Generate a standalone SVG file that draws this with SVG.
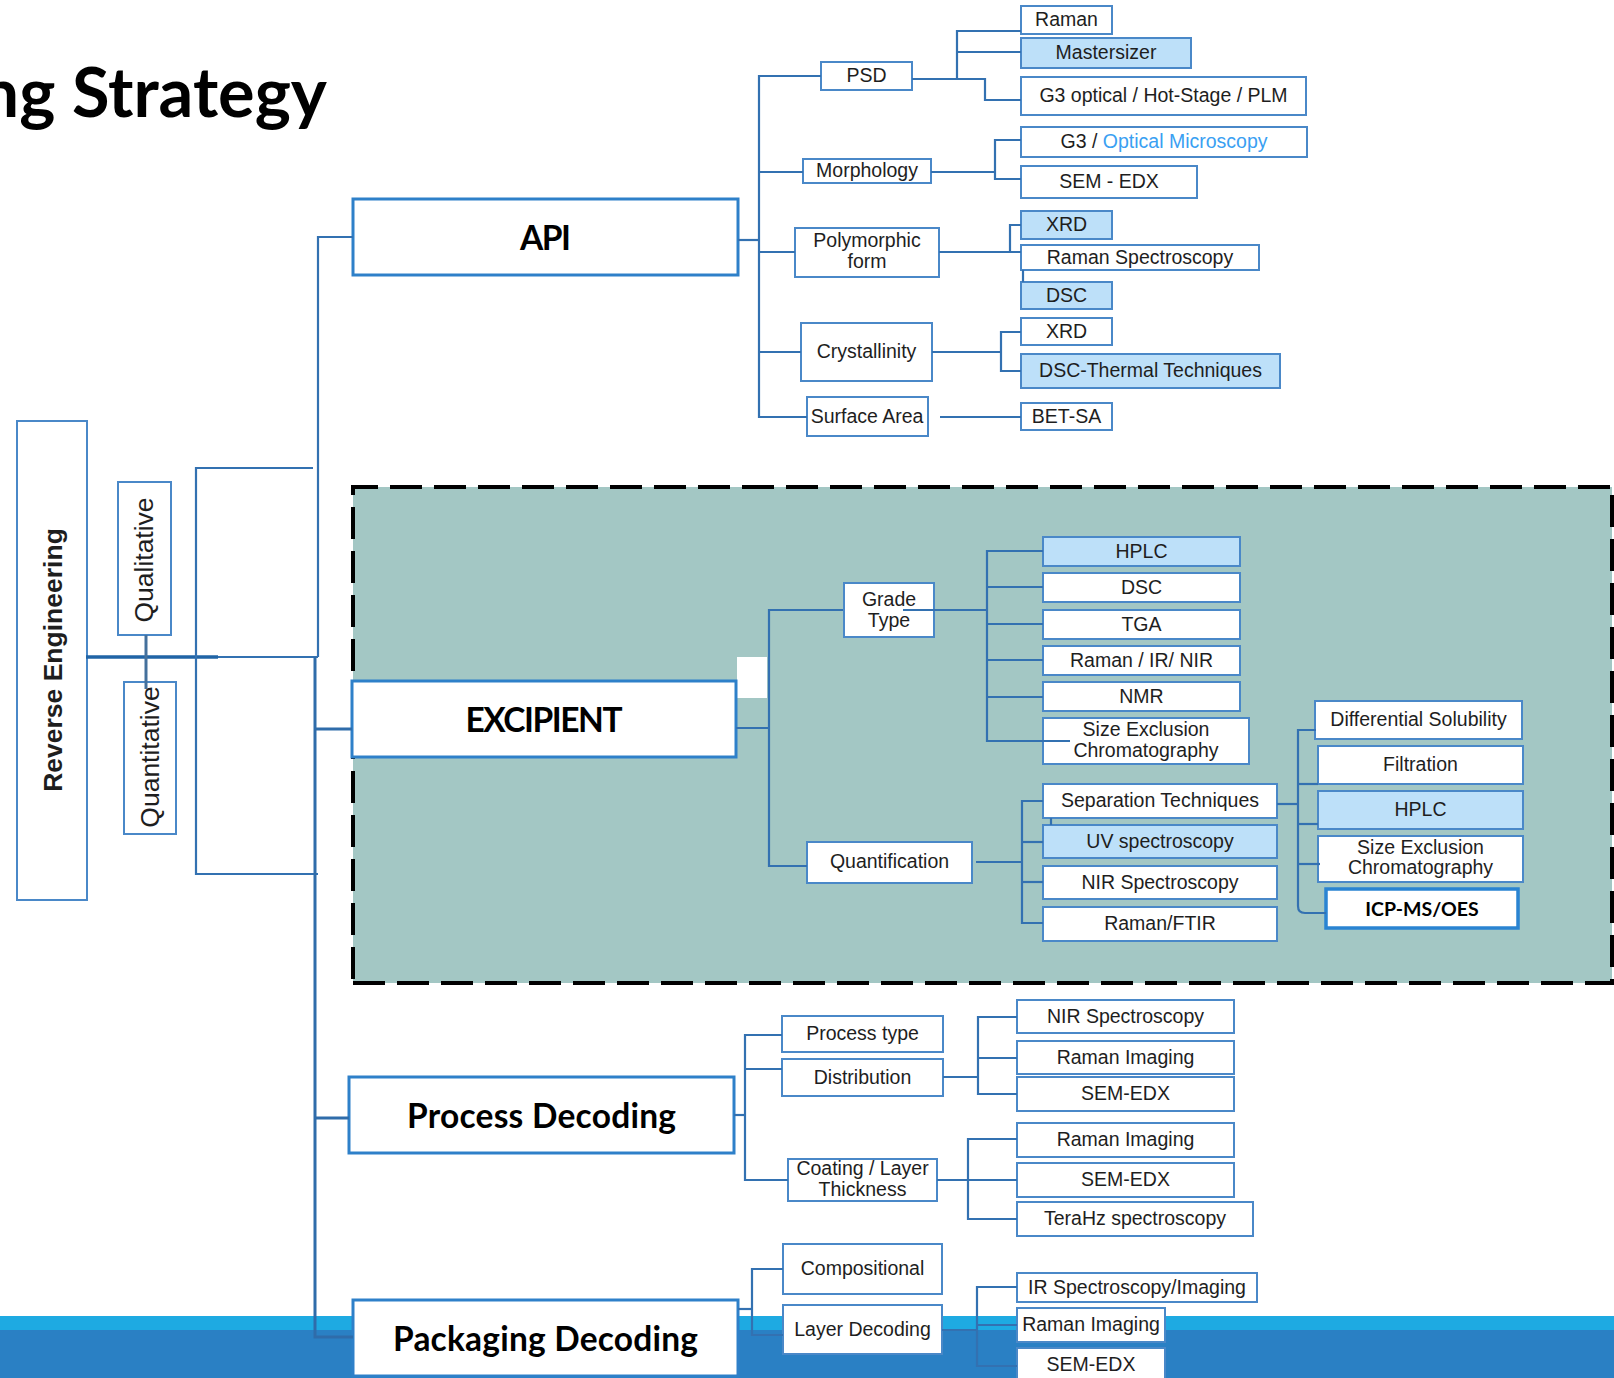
<svg xmlns="http://www.w3.org/2000/svg" width="1614" height="1378" viewBox="0 0 1614 1378">
  <style>
    .box { fill: #ffffff; stroke: #4A88C8; stroke-width: 2; }
    .hl { fill: #BDE0F9; }
    .main { fill: #ffffff; stroke: #2E80C9; stroke-width: 3; }
    .lbl { font-family: "Liberation Sans", Arial, sans-serif; font-size: 19.5px; fill: #1E1E1E; text-anchor: middle; transform: translate(0px, -1px); }
    .big { font-family: Lato, "Liberation Sans", sans-serif; font-weight: 700; font-size: 33.5px; fill: #000000; text-anchor: middle; }
    .side { font-family: "Liberation Sans", Arial, sans-serif; font-size: 26.5px; fill: #1E1E1E; text-anchor: middle; }
    .conn path { fill: none; stroke: #3371B1; stroke-width: 2.2; }
    .conn .trunk { stroke: #2F6CAA; stroke-width: 3; }
    .conn .thick { stroke: #2064A6; stroke-width: 3.5; }
    .frame line { stroke: #000000; stroke-width: 4; stroke-dasharray: 32 12; }
  </style>

  <rect x="0" y="0" width="1614" height="1378" fill="#ffffff"/>

  <!-- footer band -->
  <g id="footer-band">
    <rect x="0" y="1316" width="1614" height="14" fill="#1EAAE2"/>
    <rect x="0" y="1330" width="1614" height="48" fill="#2A80C4"/>
  </g>

  <!-- heading -->
  <text x="327" y="117" text-anchor="end" font-family="Lato, 'Liberation Sans', sans-serif" font-weight="700" font-size="68.5" fill="#000">ng Strategy</text>

  <!-- excipient region -->
  <g id="excipient-region" class="frame">
    <rect x="353" y="487" width="1259" height="496" fill="#A3C7C4"/>
    <line x1="351" y1="487" x2="1614" y2="487" stroke-dashoffset="5"/>
    <line x1="353" y1="485" x2="353" y2="985" stroke-dashoffset="22"/>
    <line x1="351" y1="983" x2="1614" y2="983" stroke-dashoffset="42"/>
    <line x1="1612" y1="485" x2="1612" y2="985" stroke-dashoffset="34"/>
    <rect x="737" y="657" width="30" height="41" fill="#ffffff"/>
  </g>

  <!-- root and axes -->
  <g id="node-reverse-engineering">
    <rect class="box" x="17" y="421" width="70" height="479"/>
    <text class="side" font-weight="700" font-size="27" transform="translate(62,660) rotate(-90)">Reverse Engineering</text>
  </g>
  <g id="node-qualitative">
    <rect class="box" x="118" y="482" width="53" height="153"/>
    <text class="side" transform="translate(153,560) rotate(-90)">Qualitative</text>
  </g>
  <g id="node-quantitative">
    <rect class="box" x="124" y="682" width="52" height="152"/>
    <text class="side" transform="translate(159,757) rotate(-90)">Quantitative</text>
  </g>

  <!-- main categories -->
  <g id="node-api">
    <rect class="main" x="353" y="199" width="385" height="76"/>
    <text class="big" x="545.5" y="249.5" textLength="51">API</text>
  </g>
  <g id="node-excipient">
    <rect class="main" x="352" y="681" width="384" height="76"/>
    <text class="big" x="544" y="732" font-size="32" textLength="157">EXCIPIENT</text>
  </g>
  <g id="node-process-decoding">
    <rect class="main" x="349" y="1077" width="385" height="76"/>
    <text class="big" x="541.5" y="1128" textLength="269">Process Decoding</text>
  </g>
  <g id="node-packaging-decoding">
    <rect class="main" x="353" y="1300" width="385" height="76"/>
    <text class="big" x="545.5" y="1351" textLength="305">Packaging Decoding</text>
  </g>

  <!-- API attributes -->
  <g id="node-psd"><rect class="box" x="821" y="62" width="91" height="28"/><text class="lbl" x="866.5" y="83">PSD</text></g>
  <g id="node-morphology"><rect class="box" x="803" y="159" width="128" height="24"/><text class="lbl" x="867" y="178">Morphology</text></g>
  <g id="node-polymorphic"><rect class="box" x="795" y="228" width="144" height="49"/><text class="lbl" x="867" y="248">Polymorphic</text><text class="lbl" x="867" y="269">form</text></g>
  <g id="node-crystallinity"><rect class="box" x="801" y="323" width="131" height="58"/><text class="lbl" x="866.5" y="359">Crystallinity</text></g>
  <g id="node-surface-area"><rect class="box" x="807" y="397" width="121" height="39"/><text class="lbl" x="867" y="423.5">Surface Area</text></g>

  <!-- API techniques -->
  <g id="node-api-raman"><rect class="box" x="1021" y="6" width="91" height="28"/><text class="lbl" x="1066.5" y="27">Raman</text></g>
  <g id="node-mastersizer"><rect class="box hl" x="1021" y="38" width="170" height="30"/><text class="lbl" x="1106" y="60">Mastersizer</text></g>
  <g id="node-g3-optical"><rect class="box" x="1021" y="77" width="285" height="38"/><text class="lbl" x="1163.5" y="103">G3 optical / Hot-Stage / PLM</text></g>
  <g id="node-g3-microscopy"><rect class="box" x="1021" y="127" width="286" height="30"/><text class="lbl" x="1164" y="149">G3 / <tspan fill="#3AA0F2">Optical Microscopy</tspan></text></g>
  <g id="node-sem-edx-api"><rect class="box" x="1021" y="166" width="176" height="32"/><text class="lbl" x="1109" y="189">SEM - EDX</text></g>
  <g id="node-xrd-poly"><rect class="box hl" x="1021" y="211" width="91" height="28"/><text class="lbl" x="1066.5" y="232">XRD</text></g>
  <g id="node-raman-spectroscopy"><rect class="box" x="1021" y="245" width="238" height="25"/><text class="lbl" x="1140" y="264.5">Raman Spectroscopy</text></g>
  <g id="node-dsc-poly"><rect class="box hl" x="1021" y="282" width="91" height="27"/><text class="lbl" x="1066.5" y="302.5">DSC</text></g>
  <g id="node-xrd-cryst"><rect class="box" x="1021" y="318" width="91" height="27"/><text class="lbl" x="1066.5" y="338.5">XRD</text></g>
  <g id="node-dsc-thermal"><rect class="box hl" x="1021" y="354" width="259" height="34"/><text class="lbl" x="1150.5" y="378">DSC-Thermal Techniques</text></g>
  <g id="node-bet-sa"><rect class="box" x="1021" y="403" width="91" height="27"/><text class="lbl" x="1066.5" y="423.5">BET-SA</text></g>

  <!-- excipient attributes -->
  <g id="node-grade-type"><rect class="box" x="844" y="583" width="90" height="54"/><text class="lbl" x="889" y="607">Grade</text><text class="lbl" x="889" y="628">Type</text></g>
  <g id="node-quantification"><rect class="box" x="807" y="842" width="165" height="41"/><text class="lbl" x="889.5" y="869">Quantification</text></g>

  <g id="node-hplc-grade"><rect class="box hl" x="1043" y="537" width="197" height="29"/><text class="lbl" x="1141.5" y="558.5">HPLC</text></g>
  <g id="node-dsc-grade"><rect class="box" x="1043" y="573" width="197" height="29"/><text class="lbl" x="1141.5" y="594.5">DSC</text></g>
  <g id="node-tga"><rect class="box" x="1043" y="610" width="197" height="29"/><text class="lbl" x="1141.5" y="631.5">TGA</text></g>
  <g id="node-raman-ir-nir"><rect class="box" x="1043" y="646" width="197" height="29"/><text class="lbl" x="1141.5" y="667.5">Raman / IR/ NIR</text></g>
  <g id="node-nmr"><rect class="box" x="1043" y="682" width="197" height="29"/><text class="lbl" x="1141.5" y="703.5">NMR</text></g>
  <g id="node-sec-grade"><rect class="box" x="1043" y="718" width="206" height="46"/><text class="lbl" x="1146" y="737">Size Exclusion</text><text class="lbl" x="1146" y="758">Chromatography</text></g>

  <g id="node-separation"><rect class="box" x="1043" y="784" width="234" height="34"/><text class="lbl" x="1160" y="808">Separation Techniques</text></g>
  <g id="node-uv"><rect class="box hl" x="1043" y="825" width="234" height="33"/><text class="lbl" x="1160" y="848.5">UV spectroscopy</text></g>
  <g id="node-nir-quant"><rect class="box" x="1043" y="866" width="234" height="33"/><text class="lbl" x="1160" y="889.5">NIR Spectroscopy</text></g>
  <g id="node-raman-ftir"><rect class="box" x="1043" y="907" width="234" height="34"/><text class="lbl" x="1160" y="931">Raman/FTIR</text></g>

  <g id="node-diff-solubility"><rect class="box" x="1315" y="701" width="207" height="38"/><text class="lbl" x="1418.5" y="727">Differential Solubility</text></g>
  <g id="node-filtration"><rect class="box" x="1318" y="746" width="205" height="38"/><text class="lbl" x="1420.5" y="772">Filtration</text></g>
  <g id="node-hplc-sep"><rect class="box hl" x="1318" y="791" width="205" height="38"/><text class="lbl" x="1420.5" y="817">HPLC</text></g>
  <g id="node-sec-sep"><rect class="box" x="1318" y="836" width="205" height="46"/><text class="lbl" x="1420.5" y="855">Size Exclusion</text><text class="lbl" x="1420.5" y="875">Chromatography</text></g>
  <g id="node-icp"><rect x="1326" y="889" width="192" height="39" fill="#fff" stroke="#2A84D2" stroke-width="3.5"/><text x="1422" y="916" text-anchor="middle" font-family="Lato, 'Liberation Sans', sans-serif" font-weight="700" font-size="19.5" fill="#000">ICP-MS/OES</text></g>

  <!-- process decoding -->
  <g id="node-process-type"><rect class="box" x="782" y="1016" width="161" height="36"/><text class="lbl" x="862.5" y="1041">Process type</text></g>
  <g id="node-distribution"><rect class="box" x="782" y="1059" width="161" height="37"/><text class="lbl" x="862.5" y="1084.5">Distribution</text></g>
  <g id="node-coating"><rect class="box" x="788" y="1159" width="149" height="42"/><text class="lbl" x="862.5" y="1176">Coating / Layer</text><text class="lbl" x="862.5" y="1197">Thickness</text></g>

  <g id="node-nir-dist"><rect class="box" x="1017" y="1000" width="217" height="33"/><text class="lbl" x="1125.5" y="1023.5">NIR Spectroscopy</text></g>
  <g id="node-raman-img-dist"><rect class="box" x="1017" y="1041" width="217" height="33"/><text class="lbl" x="1125.5" y="1064.5">Raman Imaging</text></g>
  <g id="node-sem-dist"><rect class="box" x="1017" y="1077" width="217" height="34"/><text class="lbl" x="1125.5" y="1101">SEM-EDX</text></g>
  <g id="node-raman-img-coat"><rect class="box" x="1017" y="1123" width="217" height="34"/><text class="lbl" x="1125.5" y="1147">Raman Imaging</text></g>
  <g id="node-sem-coat"><rect class="box" x="1017" y="1163" width="217" height="34"/><text class="lbl" x="1125.5" y="1187">SEM-EDX</text></g>
  <g id="node-terahz"><rect class="box" x="1017" y="1202" width="236" height="34"/><text class="lbl" x="1135" y="1226">TeraHz spectroscopy</text></g>

  <!-- packaging decoding -->
  <g id="node-compositional"><rect class="box" x="783" y="1244" width="159" height="50"/><text class="lbl" x="862.5" y="1276">Compositional</text></g>
  <g id="node-layer-decoding"><rect class="box" x="783" y="1305" width="159" height="49"/><text class="lbl" x="862.5" y="1336.5">Layer Decoding</text></g>
  <g id="node-ir-imaging"><rect class="box" x="1017" y="1273" width="240" height="29"/><text class="lbl" x="1137" y="1294.5">IR Spectroscopy/Imaging</text></g>
  <g id="node-raman-img-pack"><rect class="box" x="1017" y="1308" width="148" height="34"/><text class="lbl" x="1091" y="1332">Raman Imaging</text></g>
  <g id="node-sem-pack"><rect class="box" x="1017" y="1348" width="148" height="40"/><text class="lbl" x="1091" y="1371.5">SEM-EDX</text></g>

  <!-- connectors -->
  <g id="connectors" class="conn">
    <path class="thick" d="M86,657 H218"/>
    <path d="M218,657 H318"/>
    <path d="M146,635 V689" style="stroke:#44709C;stroke-width:3"/>
    <path d="M313,468 H196 V874 H318"/>
    <path d="M353,237 H318 V657"/>
    <path class="trunk" d="M315,657 V1337 H353"/>
    <path class="trunk" d="M315,729 H352"/>
    <path class="trunk" d="M315,1118 H349"/>

    <path d="M738,240 H759"/>
    <path d="M821,76 H759 V417 H807"/>
    <path d="M759,172 H803"/>
    <path d="M759,252 H795"/>
    <path d="M759,352 H801"/>
    <path d="M912,79 H985 V100 H1021"/>
    <path d="M957,79 V31 H1021"/>
    <path d="M957,52 H1021"/>
    <path d="M931,172 H995"/>
    <path d="M1021,140 H995 V179 H1021"/>
    <path d="M939,252 H1021"/>
    <path d="M1010,252 V225 H1021"/>
    <path d="M1023,270 V282"/>
    <path d="M932,352 H1001"/>
    <path d="M1021,332 H1001 V371 H1021"/>
    <path d="M940,417 H1021"/>

    <path d="M736,728 H769"/>
    <path d="M843,610 H769 V866 H807"/>
    <path d="M903,610 H987"/>
    <path d="M1043,551 H987 V741 H1070"/>
    <path d="M987,587 H1043"/>
    <path d="M987,624 H1043"/>
    <path d="M987,660 H1043"/>
    <path d="M987,697 H1043"/>
    <path d="M976,862 H1022"/>
    <path d="M1043,801 H1022 V923 H1043"/>
    <path d="M1022,842 H1043"/>
    <path d="M1022,882 H1043"/>
    <path d="M1051,818 V825"/>
    <path d="M1277,804 H1298"/>
    <path d="M1316,730 H1298 V906 Q1298,913 1305,913 H1326"/>
    <path d="M1298,784 H1318"/>
    <path d="M1298,824 H1318"/>
    <path d="M1298,864 H1320"/>

    <path d="M734,1115 H745"/>
    <path d="M782,1035 H745 V1180 H788"/>
    <path d="M745,1069 H782"/>
    <path d="M943,1077 H978"/>
    <path d="M1017,1017 H978 V1094 H1017"/>
    <path d="M978,1058 H1017"/>
    <path d="M937,1180 H1017"/>
    <path d="M1017,1139 H968 V1219 H1017"/>
    <path d="M738,1309 H752"/>
    <path d="M783,1269 H752 V1335 H783"/>
    <path d="M942,1330 H977"/>
    <path d="M1017,1287 H977 V1366 H1017"/>
    <path d="M977,1325 H1017"/>
  </g>
</svg>
